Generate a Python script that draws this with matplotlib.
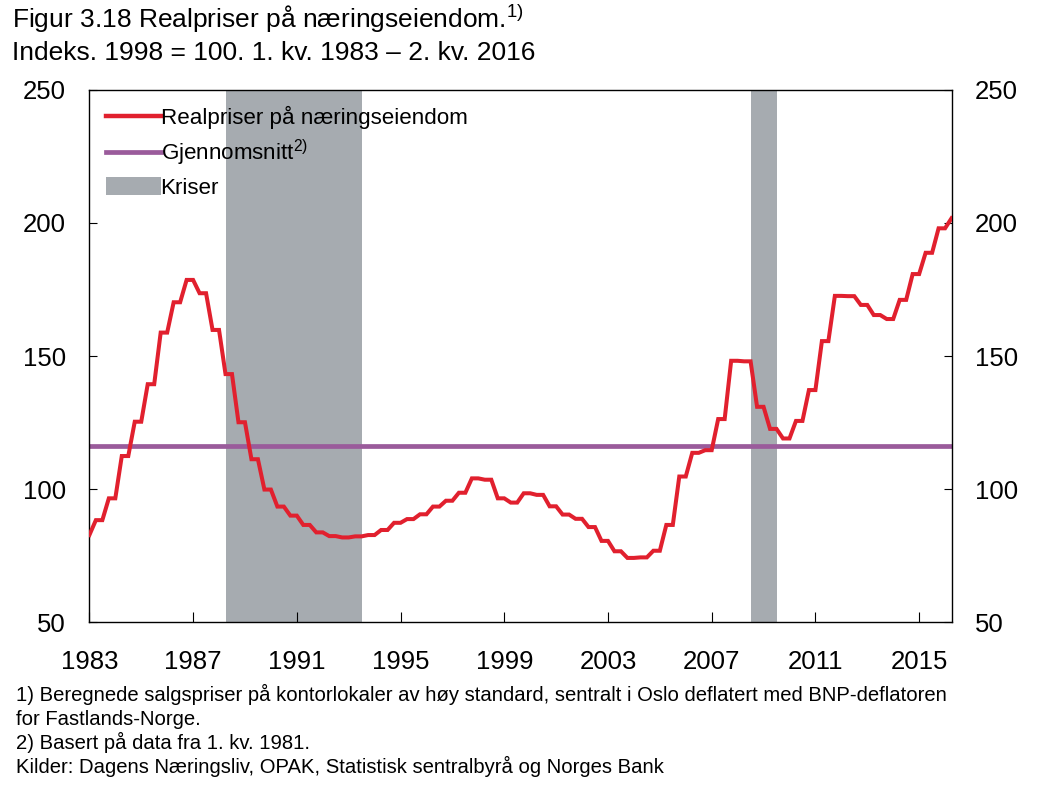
import matplotlib
matplotlib.use('Agg')
import matplotlib.pyplot as plt
from matplotlib.lines import Line2D
from matplotlib.patches import Patch
import numpy as np

plt.rcParams['font.family'] = ['Liberation Sans', 'DejaVu Sans']
plt.rcParams['mathtext.fontset'] = 'custom'
plt.rcParams['mathtext.rm'] = 'Liberation Sans'
plt.rcParams['mathtext.default'] = 'regular'

# kvartalstall, 1. kv. 1983 - 2. kv. 2016 (1998 = 100)
start_aar = 1983
realpris = [
    82.7, 88.3, 88.3, 96.5,       # 1983
    96.5, 112.4, 112.4, 125.3,    # 1984
    125.3, 139.4, 139.4, 158.8,   # 1985
    158.8, 170.2, 170.2, 178.6,   # 1986
    178.6, 173.6, 173.6, 159.8,   # 1987
    159.8, 143.2, 143.2, 125.1,   # 1988
    125.1, 111.2, 111.2, 99.8,    # 1989
    99.8, 93.4, 93.4, 90.0,       # 1990
    90.0, 86.5, 86.5, 83.7,       # 1991
    83.7, 82.3, 82.3, 81.8,       # 1992
    81.8, 82.2, 82.2, 82.7,       # 1993
    82.7, 84.6, 84.6, 87.3,       # 1994
    87.3, 88.7, 88.7, 90.5,       # 1995
    90.5, 93.4, 93.4, 95.6,       # 1996
    95.6, 98.6, 98.6, 104.0,      # 1997
    104.0, 103.5, 103.5, 96.5,    # 1998
    96.5, 94.9, 94.9, 98.4,       # 1999
    98.4, 97.8, 97.8, 93.5,       # 2000
    93.5, 90.4, 90.4, 88.8,       # 2001
    88.8, 85.7, 85.7, 80.5,       # 2002
    80.5, 76.6, 76.6, 74.1,       # 2003
    74.1, 74.3, 74.3, 76.8,       # 2004
    76.8, 86.5, 86.5, 104.7,      # 2005
    104.7, 113.6, 113.6, 114.6,   # 2006
    114.6, 126.3, 126.3, 148.2,   # 2007
    148.2, 148.0, 148.0, 130.9,   # 2008
    130.9, 122.6, 122.6, 119.0,   # 2009
    119.0, 125.6, 125.6, 137.2,   # 2010
    137.2, 155.6, 155.6, 172.6,   # 2011
    172.6, 172.5, 172.5, 169.2,   # 2012
    169.2, 165.4, 165.4, 163.9,   # 2013
    163.9, 171.1, 171.1, 180.8,   # 2014
    180.8, 188.8, 188.8, 198.0,   # 2015
    198.0, 201.8,                 # 2016
]
gjennomsnitt = 116.2
kriser = [(1988.25, 1993.5), (2008.5, 2009.5)]
aar_ticks = [1983, 1987, 1991, 1995, 1999, 2003, 2007, 2011, 2015]
y_ticks = [50, 100, 150, 200, 250]

fotnoter = [
    '1) Beregnede salgspriser på kontorlokaler av høy standard, sentralt i Oslo deflatert med BNP-deflatoren',
    'for Fastlands-Norge.',
    '2) Basert på data fra 1. kv. 1981.',
    'Kilder: Dagens Næringsliv, OPAK, Statistisk sentralbyrå og Norges Bank',
]

rod = '#E1202E'
lilla = '#9A5B9B'
gra = '#A6ABB0'

tid = start_aar + np.arange(len(realpris)) / 4

fig = plt.figure(figsize=(10.54, 8.07), dpi=100)
ax = fig.add_axes([0.0848, 0.2292, 0.8180, 0.6593])

for a, b in kriser:
    ax.axvspan(a, b, color=gra, lw=0, zorder=0)
ax.axhline(gjennomsnitt, color=lilla, lw=3.4, zorder=2)
ax.plot(tid, realpris, color=rod, lw=2.9, zorder=3, solid_joinstyle='miter')

ax.set_xlim(1983, 2016.25)
ax.set_ylim(50, 250)
ax.set_xticks(aar_ticks)
ax.set_yticks(y_ticks)
ax.tick_params(axis='x', direction='in', length=7, width=0.8, pad=20, labelsize=18.5)
ax.tick_params(axis='y', direction='in', length=6, width=0.8, pad=17, labelsize=18.5,
               right=True, labelright=True)
for s in ax.spines.values():
    s.set_linewidth(1.0)

handles = [
    Line2D([], [], color=rod, lw=3.2),
    Line2D([], [], color=lilla, lw=3.4),
    Patch(facecolor=gra, edgecolor='none'),
]
labels = ['Realpriser på næringseiendom', 'Gjennomsnitt$^{2)}$', 'Kriser']
ax.legend(handles, labels, loc='upper left', bbox_to_anchor=(0.019, 0.97),
          frameon=False, fontsize=16.1, handlelength=2.45, handletextpad=0.0,
          labelspacing=0.4, borderpad=0, borderaxespad=0, handleheight=0.85)

fig.text(12 / 1054, 1 - 28 / 807, 'Figur 3.18 Realpriser på næringseiendom.$^{1)}$',
         fontsize=19, va='baseline')
fig.text(12 / 1054, 1 - 60 / 807, 'Indeks. 1998 = 100. 1. kv. 1983 – 2. kv. 2016',
         fontsize=19, va='baseline')

for i, linje in enumerate(fotnoter):
    fig.text(16 / 1054, 1 - (701 + 24 * i) / 807, linje, fontsize=14.6, va='baseline')

fig.savefig('out.png', dpi=100)
